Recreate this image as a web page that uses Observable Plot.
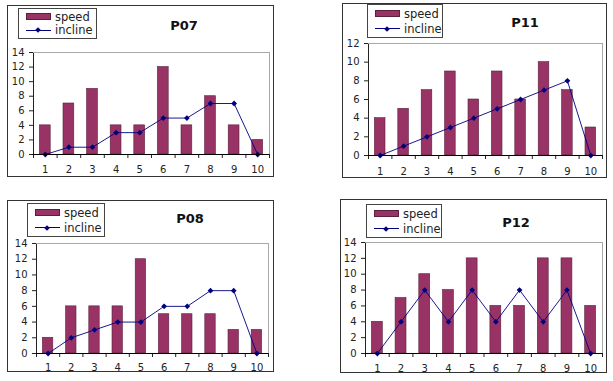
<!DOCTYPE html>
<html>
<head>
<meta charset="utf-8">
<script src="https://cdn.jsdelivr.net/npm/d3@7"></script>
<script src="https://cdn.jsdelivr.net/npm/@observablehq/plot@0.6"></script>
<style>
  html, body { margin: 0; padding: 0; background: #fff; }
  #root { position: relative; width: 613px; height: 381px; overflow: hidden; background: #fff; font-family: "DejaVu Sans", sans-serif; }
  .frame { position: absolute; box-sizing: border-box; border: 1px solid #333; pointer-events: none; }
  .chart { position: absolute; }
  .legend { position: absolute; box-sizing: border-box; border: 1px solid #444; background: #fff;
            display: flex; flex-direction: column; justify-content: space-around; padding: 1px 0 1px 7px; }
  .row { display: flex; align-items: center; font-size: 11.5px; color: #222; line-height: 12px; }
  .sw { width: 25px; height: 7px; background: #993366; border: 1px solid #5a1f3c; box-sizing: border-box; margin-right: 4px; }
  .ln { position: relative; width: 25px; height: 7px; margin-right: 4px; }
  .ln::before { content: ""; position: absolute; left: 0; right: 0; top: 3px; height: 1px; background: #000080; }
  .ln::after { content: ""; position: absolute; left: 10px; top: 1.5px; width: 4px; height: 4px; background: #000080; transform: rotate(45deg); }
  .title { position: absolute; font-weight: bold; font-size: 13px; color: #111; transform: translate(-50%, -50%); white-space: nowrap; }
</style>
</head>
<body>
<div id="root"></div>
<script>
// ---- data ----
const categories = [1, 2, 3, 4, 5, 6, 7, 8, 9, 10];
const titles = ["P07", "P11", "P08", "P12"];
const speedP07 = [4, 7, 9, 4, 4, 12, 4, 8, 4, 2];
const inclineP07 = [0, 1, 1, 3, 3, 5, 5, 7, 7, 0];
const speedP11 = [4, 5, 7, 9, 6, 9, 6, 10, 7, 3];
const inclineP11 = [0, 1, 2, 3, 4, 5, 6, 7, 8, 0];
const speedP08 = [2, 6, 6, 6, 12, 5, 5, 5, 3, 3];
const inclineP08 = [0, 2, 3, 4, 4, 6, 6, 8, 8, 0];
const speedP12 = [4, 7, 10, 8, 12, 6, 6, 12, 12, 6];
const inclineP12 = [0, 4, 8, 4, 8, 4, 8, 4, 8, 0];
const yMaxes = [14, 12, 14, 14];
const seriesNames = ["speed", "incline"];

const speeds = [speedP07, speedP11, speedP08, speedP12];
const inclines = [inclineP07, inclineP11, inclineP08, inclineP12];

// ---- layout ----
const layout = [
  {left: 7, top: 5, w: 267, h: 172, m: [47, 5, 23, 26], lg: [11, 3, 79, 31], tt: [184, 25], dy: 15},
  {left: 342, top: 3, w: 265, h: 175, m: [40, 5, 23, 26], lg: [25, 1, 76, 34], tt: [525, 22], dy: 16},
  {left: 7, top: 200, w: 267, h: 172, m: [43, 6, 19, 29], lg: [20, 3, 78, 34], tt: [190, 218], dy: 14},
  {left: 340, top: 199, w: 267, h: 174, m: [43, 5, 20, 25], lg: [26, 5, 76, 34], tt: [516, 222], dy: 15}
];

const root = document.getElementById("root");
const bounds = d3.range(0.5, 11, 1);

titles.forEach((name, k) => {
  const L = layout[k];
  const data = categories.map((c, i) => ({x: c, speed: speeds[k][i], incline: inclines[k][i]}));
  const yMax = yMaxes[k];
  const yTicks = d3.range(0, yMax + 1, 2);

  const chart = Plot.plot({
    width: L.w,
    height: L.h,
    marginTop: L.m[0], marginRight: L.m[1], marginBottom: L.m[2], marginLeft: L.m[3],
    style: {fontFamily: "DejaVu Sans, sans-serif", fontSize: "10px", background: "transparent", color: "#222", overflow: "visible"},
    x: {type: "linear", domain: [0.5, 10.5], ticks: bounds, tickFormat: () => "", tickSize: 4, line: true, label: null},
    y: {domain: [0, yMax], ticks: yTicks, tickSize: 4, tickPadding: 5, line: true, label: null},
    marks: [
      Plot.ruleY([yMax], {stroke: "#a8a8a8"}),
      Plot.ruleX([10.5], {stroke: "#a8a8a8"}),
      Plot.rectY(data, {x1: d => d.x - 0.5, x2: d => d.x + 0.5, y: "speed", insetLeft: 6.4, insetRight: 6.4,
                        fill: "#993366", stroke: "#5a1f3c", strokeWidth: 0.6}),
      Plot.line(data, {x: "x", y: "incline", stroke: "#000080", strokeWidth: 0.9}),
      Plot.dot(data, {x: "x", y: "incline", symbol: "diamond2", r: 2.6, fill: "#000080", stroke: "none"}),
      Plot.text(categories, {x: d => d, y: () => 0, text: d => String(d), dy: L.dy, fill: "#222", fontSize: 10}),
      Plot.ruleY([0], {stroke: "#000"}),
    ]
  });
  chart.classList.add("chart");
  chart.style.left = L.left + "px";
  chart.style.top = L.top + "px";
  root.appendChild(chart);

  const frame = document.createElement("div");
  frame.className = "frame";
  Object.assign(frame.style, {left: L.left + "px", top: L.top + "px", width: L.w + "px", height: L.h + "px"});
  root.appendChild(frame);

  const lg = document.createElement("div");
  lg.className = "legend";
  Object.assign(lg.style, {left: (L.left + L.lg[0]) + "px", top: (L.top + L.lg[1]) + "px", width: L.lg[2] + "px", height: L.lg[3] + "px"});
  lg.innerHTML = `<div class="row"><span class="sw"></span>${seriesNames[0]}</div>` +
                 `<div class="row"><span class="ln"></span>${seriesNames[1]}</div>`;
  root.appendChild(lg);

  const t = document.createElement("div");
  t.className = "title";
  t.textContent = name;
  Object.assign(t.style, {left: L.tt[0] + "px", top: L.tt[1] + "px"});
  root.appendChild(t);
});
</script>
</body>
</html>
